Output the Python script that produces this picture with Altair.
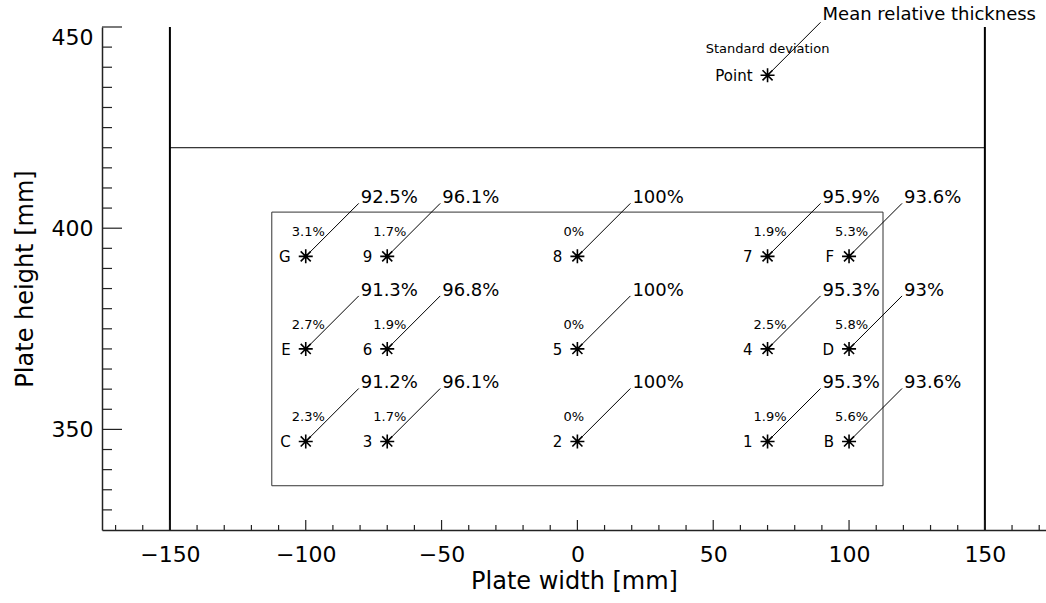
import altair as alt
import pandas as pd

# Measurement points on the plate (three rows of five)
point_names = ["G", "9", "8", "7", "F",
               "E", "6", "5", "4", "D",
               "C", "3", "2", "1", "B"]
point_x = [-100, -70, 0, 70, 100,
           -100, -70, 0, 70, 100,
           -100, -70, 0, 70, 100]
point_y = [393, 393, 393, 393, 393,
           370, 370, 370, 370, 370,
           347, 347, 347, 347, 347]
mean_thickness = [92.5, 96.1, 100, 95.9, 93.6,
                  91.3, 96.8, 100, 95.3, 93,
                  91.2, 96.1, 100, 95.3, 93.6]
std_deviation = [3.1, 1.7, 0, 1.9, 5.3,
                 2.7, 1.9, 0, 2.5, 5.8,
                 2.3, 1.7, 0, 1.9, 5.6]

# Key in the upper part of the frame
key_x = [70]
key_y = [438]
key_point = ["Point"]
key_std = ["Standard deviation"]
key_mean = ["Mean relative thickness"]

# Plate outline and measured area
plate_edges_x = [-150, 150]
plate_bottom = [325, 325]
plate_top = [450, 450]
plate_line_y = [420]
plate_line_x = [-150]
plate_line_x2 = [150]
area_x = [-112.5]
area_x2 = [112.5]
area_y = [336]
area_y2 = [404]

# Axis ticks
x_major = [-150, -100, -50, 0, 50, 100, 150]
x_minor = [-170, -160, -140, -130, -120, -110, -90, -80, -70, -60, -40, -30,
           -20, -10, 10, 20, 30, 40, 60, 70, 80, 90, 110, 120, 130, 140, 160, 170]
y_major = [350, 400, 450]
y_minor = [330, 335, 340, 345, 355, 360, 365, 370, 375, 380, 385, 390, 395,
           405, 410, 415, 420, 425, 430, 435, 440, 445]

FONT = "DejaVu Sans"
W, H = 944, 503
STAR = "M-1,0L1,0M0,-1L0,1M-0.72,-0.72L0.72,0.72M-0.72,0.72L0.72,-0.72"


def pct(v):
    return f"{v:g}%"


points = pd.DataFrame({
    "x": point_x, "y": point_y, "name": point_names,
    "mean": [pct(v) for v in mean_thickness],
    "std": [pct(v) for v in std_deviation],
})
key = pd.DataFrame({"x": key_x, "y": key_y, "name": key_point,
                    "std": key_std, "mean": key_mean})

xs = alt.Scale(domain=[-175, 172.5], nice=False, zero=False)
ys = alt.Scale(domain=[325, 450], nice=False, zero=False)

x_axis = alt.Axis(values=x_major, ticks=False, grid=False, format="d",
                  labelFont=FONT, labelFontSize=22, labelColor="black",
                  labelPadding=14, labelFlush=False,
                  domainColor="#222", domainWidth=1.5,
                  title="Plate width [mm]", titleFont=FONT, titleFontSize=24,
                  titleFontWeight="normal", titleColor="black",
                  titleBaseline="middle", titleY=51)
y_axis = alt.Axis(values=y_major, ticks=False, grid=False, format="d",
                  labelFont=FONT, labelFontSize=22, labelColor="black",
                  labelPadding=9, labelFlush=True,
                  domainColor="#222", domainWidth=1.5,
                  title="Plate height [mm]", titleFont=FONT, titleFontSize=24,
                  titleFontWeight="normal", titleColor="black",
                  titleBaseline="middle", titleX=-77)


def X(field):
    return alt.X(f"{field}:Q", scale=xs, axis=x_axis)


def Y(field):
    return alt.Y(f"{field}:Q", scale=ys, axis=y_axis)


# Plate edges and top line
edges = alt.Chart(pd.DataFrame({"x": plate_edges_x, "y": plate_bottom, "y2": plate_top})).mark_rule(
    color="black", strokeWidth=2
).encode(x=X("x"), y=Y("y"), y2=alt.Y2("y2"))

top_line = alt.Chart(pd.DataFrame({"x": plate_line_x, "x2": plate_line_x2, "y": plate_line_y})).mark_rule(
    color="black", strokeWidth=1
).encode(x=X("x"), x2=alt.X2("x2"), y=Y("y"))

area = alt.Chart(pd.DataFrame({"x": area_x, "x2": area_x2, "y": area_y, "y2": area_y2})).mark_rect(
    filled=False, stroke="#333", strokeWidth=1
).encode(x=X("x"), x2=alt.X2("x2"), y=Y("y"), y2=alt.Y2("y2"))


def marker_layers(df, name_dy=6, std_align="left", std_dx=-14, std_dy=-20, std_size=13,
                  mean_size=18, mean_dy=-53):
    base = alt.Chart(df)
    leader = base.mark_rule(color="black", strokeWidth=1, x2Offset=53, y2Offset=-53).encode(
        x=X("x"), y=Y("y"), x2=alt.X2("x"), y2=alt.Y2("y"))
    star = base.mark_point(shape=STAR, size=196, filled=False, color="black",
                           strokeWidth=1.6, opacity=1).encode(x=X("x"), y=Y("y"))
    names = base.mark_text(font=FONT, fontSize=15, align="right", baseline="alphabetic",
                           dx=-15, dy=name_dy, color="black").encode(
        x=X("x"), y=Y("y"), text="name:N")
    stds = base.mark_text(font=FONT, fontSize=std_size, align=std_align, baseline="alphabetic",
                          dx=std_dx, dy=std_dy, color="black").encode(
        x=X("x"), y=Y("y"), text="std:N")
    means = base.mark_text(font=FONT, fontSize=mean_size, align="left", baseline="alphabetic",
                           dx=55, dy=mean_dy, color="black").encode(
        x=X("x"), y=Y("y"), text="mean:N")
    return [leader, star, names, stds, means]


grid_layers = marker_layers(points)
key_layers = marker_layers(key, std_align="center", std_dx=0, std_dy=-22, std_size=13,
                           mean_size=18, mean_dy=-55)

# Inward tick marks on both axes
x_major_ticks = alt.Chart(pd.DataFrame({"t": x_major})).mark_rule(color="#222", strokeWidth=1.2).encode(
    x=X("t"), y=alt.value(H), y2=alt.value(H - 10))
x_minor_ticks = alt.Chart(pd.DataFrame({"t": x_minor})).mark_rule(color="#222", strokeWidth=1.2).encode(
    x=X("t"), y=alt.value(H), y2=alt.value(H - 5))
y_major_ticks = alt.Chart(pd.DataFrame({"t": y_major})).mark_rule(color="#222", strokeWidth=1.2).encode(
    y=Y("t"), x=alt.value(0), x2=alt.value(20))
y_minor_ticks = alt.Chart(pd.DataFrame({"t": y_minor})).mark_rule(color="#222", strokeWidth=1.2).encode(
    y=Y("t"), x=alt.value(0), x2=alt.value(10))

chart = alt.layer(
    edges, top_line, area,
    *grid_layers, *key_layers,
    x_major_ticks, x_minor_ticks, y_major_ticks, y_minor_ticks,
).properties(
    width=W, height=H,
    autosize=alt.AutoSizeParams(type="none"),
    padding={"left": 102, "top": 27, "right": 0, "bottom": 73},
    background="white",
).configure_view(stroke=None)

chart.save("out.html", embed_options={"renderer": "svg", "actions": False})
